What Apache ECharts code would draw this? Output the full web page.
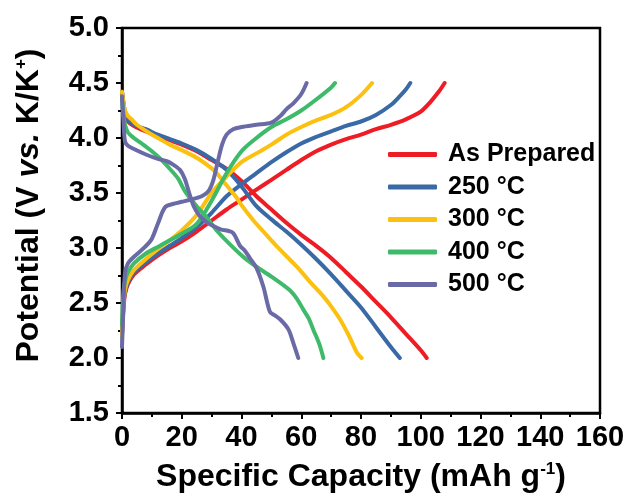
<!DOCTYPE html>
<html><head><meta charset="utf-8">
<script src="https://cdn.jsdelivr.net/npm/echarts@6/dist/echarts.min.js"></script>
<style>html,body{margin:0;padding:0;background:#fff}#c{width:630px;height:499px}</style>
</head><body><div id="c"></div>
<script>
const seriesNames = ['As Prepared', '250 °C', '300 °C', '400 °C', '500 °C'];
const xTicks = [0, 20, 40, 60, 80, 100, 120, 140, 160];
const yTicks = [1.5, 2.0, 2.5, 3.0, 3.5, 4.0, 4.5, 5.0];

// As Prepared
const apChargeX = [0, 0.5, 1, 2, 4, 8, 12, 16, 20, 25, 30, 35, 40, 45, 50, 55, 60, 65, 70, 75, 80, 85, 90, 95, 100, 103, 106, 108];
const apChargeY = [2.22, 2.45, 2.58, 2.67, 2.76, 2.85, 2.93, 3.0, 3.06, 3.15, 3.25, 3.35, 3.44, 3.53, 3.62, 3.71, 3.80, 3.88, 3.94, 3.99, 4.03, 4.08, 4.12, 4.17, 4.24, 4.32, 4.42, 4.5];
const apDischX = [0, 0.5, 1, 2, 4, 8, 12, 16, 20, 25, 30, 35, 40, 45, 50, 55, 60, 65, 70, 75, 80, 85, 90, 95, 100, 102];
const apDischY = [4.42, 4.3, 4.22, 4.15, 4.11, 4.06, 4.02, 3.98, 3.94, 3.88, 3.80, 3.72, 3.61, 3.47, 3.35, 3.23, 3.12, 3.02, 2.91, 2.78, 2.65, 2.51, 2.37, 2.22, 2.07, 2.0];
// 250 °C
const t250ChargeX = [0, 0.5, 1, 2, 4, 8, 12, 16, 20, 25, 30, 35, 40, 45, 50, 55, 60, 65, 70, 75, 80, 85, 90, 93, 95, 96.5];
const t250ChargeY = [2.2, 2.48, 2.6, 2.69, 2.78, 2.87, 2.95, 3.02, 3.09, 3.19, 3.32, 3.47, 3.58, 3.68, 3.78, 3.87, 3.95, 4.01, 4.06, 4.11, 4.15, 4.21, 4.3, 4.38, 4.44, 4.5];
const t250DischX = [0, 0.5, 1, 2, 4, 8, 12, 16, 20, 25, 30, 35, 40, 45, 50, 55, 60, 65, 70, 75, 80, 85, 90, 93];
const t250DischY = [4.42, 4.32, 4.24, 4.17, 4.12, 4.08, 4.03, 3.99, 3.95, 3.89, 3.81, 3.71, 3.56, 3.38, 3.26, 3.15, 3.03, 2.90, 2.76, 2.61, 2.46, 2.28, 2.1, 2.0];
// 300 °C
const t300ChargeX = [0, 0.5, 1, 2, 4, 8, 12, 16, 20, 25, 30, 35, 40, 45, 50, 55, 60, 65, 70, 75, 80, 83.7];
const t300ChargeY = [2.2, 2.5, 2.62, 2.71, 2.8, 2.9, 2.99, 3.07, 3.16, 3.3, 3.5, 3.65, 3.78, 3.86, 3.94, 4.03, 4.10, 4.16, 4.21, 4.28, 4.39, 4.5];
const t300DischX = [0, 0.5, 1, 2, 3.2, 5, 8.8, 12, 16, 20, 25, 31, 35, 38, 40, 44, 47.3, 52, 58.5, 63, 67.4, 70, 73, 76, 78.6, 80.2];
const t300DischY = [4.42, 4.32, 4.25, 4.2, 4.17, 4.12, 4.05, 4.0, 3.94, 3.89, 3.82, 3.70, 3.57, 3.47, 3.39, 3.25, 3.15, 3.01, 2.83, 2.69, 2.56, 2.47, 2.35, 2.2, 2.05, 2.0];
// 400 °C
const t400ChargeX = [0, 0.5, 1, 2, 4, 8, 12, 16, 20, 25, 30, 35, 40, 45, 50, 55, 60, 65, 70, 71.3];
const t400ChargeY = [2.3, 2.6, 2.7, 2.78, 2.86, 2.95, 3.01, 3.07, 3.13, 3.22, 3.43, 3.68, 3.88, 4.0, 4.1, 4.17, 4.25, 4.35, 4.46, 4.5];
const t400DischX = [0, 0.5, 1, 2, 4, 6.6, 10, 13.3, 16, 18.8, 21.2, 25, 28.3, 32, 37, 41, 45, 50, 56, 58.5, 60.7, 62.5, 64, 66, 67.4];
const t400DischY = [4.35, 4.22, 4.12, 4.05, 4.0, 3.95, 3.88, 3.8, 3.72, 3.63, 3.51, 3.38, 3.28, 3.15, 3.01, 2.91, 2.83, 2.74, 2.62, 2.54, 2.44, 2.36, 2.26, 2.13, 2.0];
// 500 °C
const t500ChargeX = [0, 0.4, 1, 2, 4, 7.7, 9.9, 12, 14.4, 17, 20, 23, 26.7, 29, 30.6, 32, 33.5, 35, 37.2, 40, 45, 50, 53, 55, 57.5, 60, 61.8];
const t500ChargeY = [2.1, 2.4, 2.77, 2.86, 2.92, 3.01, 3.08, 3.22, 3.37, 3.40, 3.42, 3.44, 3.47, 3.52, 3.62, 3.78, 3.94, 4.03, 4.08, 4.1, 4.12, 4.14, 4.2, 4.26, 4.32, 4.4, 4.5];
const t500DischX = [0, 0.5, 1, 2, 4, 8, 12, 15, 17, 19.4, 21, 22.5, 24, 26, 28, 30.6, 33, 37, 39.5, 41, 43, 45, 47.3, 49.5, 51, 53, 55.7, 57.3, 59];
const t500DischY = [4.38, 4.15, 3.97, 3.93, 3.9, 3.85, 3.81, 3.79, 3.76, 3.71, 3.63, 3.5, 3.38, 3.29, 3.24, 3.2, 3.17, 3.14, 3.02, 2.98, 2.9, 2.82, 2.65, 2.42, 2.39, 2.35, 2.26, 2.14, 2.0];

const colors = ['#ee1c24', '#3a6aa6', '#fcc010', '#3fba6a', '#6a6aa6'];
const curves = [
  [apChargeX, apChargeY, apDischX, apDischY],
  [t250ChargeX, t250ChargeY, t250DischX, t250DischY],
  [t300ChargeX, t300ChargeY, t300DischX, t300DischY],
  [t400ChargeX, t400ChargeY, t400DischX, t400DischY],
  [t500ChargeX, t500ChargeY, t500DischX, t500DischY]
];
const zip = (xs, ys) => xs.map((x, i) => [x, ys[i]]);
const series = [];
curves.forEach((c, i) => {
  [[c[0], c[1]], [c[2], c[3]]].forEach(p => {
    series.push({
      name: seriesNames[i], type: 'line', data: zip(p[0], p[1]),
      showSymbol: false, smooth: 0.3,
      lineStyle: { color: colors[i], width: 4, cap: 'round', join: 'round' },
      itemStyle: { color: colors[i] }
    });
  });
});
const font = '"Liberation Sans", Arial, sans-serif';
const chart = echarts.init(document.getElementById('c'), null, { renderer: 'canvas' });
chart.setOption({
  animation: false,
  backgroundColor: '#fff',
  grid: { left: 122, right: 30, top: 28, bottom: 86, show: true, borderColor: '#000', borderWidth: 2.5, backgroundColor: 'transparent' },
  legend: {
    data: seriesNames, orient: 'vertical', left: 388, top: 142, padding: 0, itemWidth: 49, itemHeight: 5, itemGap: 7.5,
    icon: 'roundRect',
    textStyle: { fontFamily: font, fontWeight: 'bold', fontSize: 25, color: '#000', padding: [0, 0, 0, 6] }
  },
  xAxis: {
    type: 'value', min: 0, max: 160, interval: 20,
    name: '{b|Specific Capacity }{b|(mAh g}{s|-1}{b|)}', nameLocation: 'middle', nameGap: 48,
    nameTextStyle: { rich: { b: { fontFamily: font, fontWeight: 'bold', fontSize: 32, color: '#000' }, s: { fontFamily: font, fontWeight: 'bold', fontSize: 17, color: '#000', verticalAlign: 'top', padding: [0, 0, 16, 0] } } },
    axisLine: { lineStyle: { color: '#000', width: 2.5 } },
    axisTick: { length: 6, lineStyle: { color: '#000', width: 2 } },
    minorTick: { show: true, splitNumber: 2, length: 4, lineStyle: { color: '#000', width: 2 } },
    splitLine: { show: false },
    axisLabel: { fontFamily: font, fontWeight: 'bold', fontSize: 29, color: '#000', margin: 10 }
  },
  yAxis: {
    type: 'value', min: 1.5, max: 5, interval: 0.5,
    name: '{b|Potential (V }{i|vs.}{b| K/K}{s|+}{b|)}', nameLocation: 'middle', nameGap: 76, nameRotate: 90,
    nameTextStyle: { padding: [0, 0, 0, 30], rich: { b: { fontFamily: font, fontWeight: 'bold', fontSize: 32, color: '#000' }, i: { fontFamily: font, fontWeight: 'bold', fontStyle: 'italic', fontSize: 32, color: '#000' }, s: { fontFamily: font, fontWeight: 'bold', fontSize: 17, color: '#000', verticalAlign: 'top', padding: [0, 0, 16, 0] } } },
    axisLine: { show: true, lineStyle: { color: '#000', width: 2.5 } },
    axisTick: { show: true, length: 6, lineStyle: { color: '#000', width: 2 } },
    minorTick: { show: true, splitNumber: 2, length: 4, lineStyle: { color: '#000', width: 2 } },
    splitLine: { show: false },
    axisLabel: { fontFamily: font, fontWeight: 'bold', fontSize: 29, color: '#000', margin: 13, formatter: v => v.toFixed(1) }
  },
  series: series
});
</script></body></html>
